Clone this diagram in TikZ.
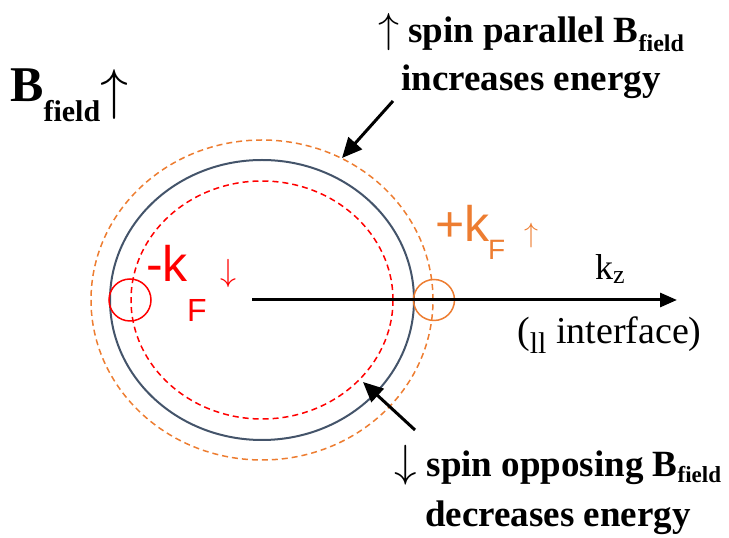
\documentclass[tikz,border=0pt]{standalone}
\usepackage{graphicx}
\usepackage{fontspec}
\setmainfont{Liberation Serif}
\setsansfont{Liberation Sans}
\usepackage{tikz}
\usetikzlibrary{arrows.meta}
\definecolor{spinred}{HTML}{FF0000}
\definecolor{spinorange}{HTML}{ED7D31}
\definecolor{fermigray}{HTML}{44546A}
\newcommand{\fsz}[1]{\fontsize{#1}{#1}\selectfont}
\newcommand{\spinarrow}[2]{\scalebox{#1}{\fsz{10}$#2$}}

\begin{document}
\begin{tikzpicture}[x=1pt, y=1pt,
    every node/.style={inner sep=0pt},
    textline/.style={font=\fsz{37}\bfseries, anchor=base},
    shell/.style={line width=1.5pt, dash pattern=on 6pt off 4pt},
    spot/.style={circle, draw, line width=1.5pt},
    kbig/.style={font=\sffamily\fsz{50}, anchor=base west},
    ksub/.style={font=\sffamily\fsz{32}, anchor=base west},
    karr/.style={anchor=base west},
    pointer/.style={-{Triangle[length=20pt, width=18pt]}, line width=3pt}]
  \useasboundingbox (0,0) rectangle (729,538);
  \coordinate (ctr) at (262,238);
  \draw[spinorange, shell] (ctr) ellipse [x radius=171, y radius=160];
  \draw[fermigray, line width=2pt] (ctr) ellipse [x radius=152, y radius=140];
  \draw[spinred, shell] (ctr) ellipse [x radius=131, y radius=119];
  \node[spot, draw=spinred, minimum size=42pt] (kmspot) at (130,238) {};
  \node[spot, draw=spinorange, minimum size=41pt] (kpspot) at (434,238) {};
  \coordinate (kzstart) at (252,238);
  \coordinate (kzend) at (677,238);
  \draw[-{Triangle[length=17pt, width=14pt]}, line width=3pt] (kzstart) -- (kzend);
  \node[font=\fsz{36}, anchor=base west] (kz) at (595,258) {k\raisebox{-4pt}{\fsz{26}z}};
  \node[font=\fsz{38}, anchor=base west] (iface) at (517,194)
    {(\raisebox{-10pt}{\fsz{30}ll} interface)};
  \node[font=\bfseries\fsz{50}, anchor=base west] (bfield) at (10,436)
    {B\raisebox{-20pt}{\fsz{30}field}\raisebox{-7pt}{\spinarrow{5.6}{\uparrow}}};
  \node[textline] (parline) at (531,495)
    {\spinarrow{4.2}{\uparrow} spin parallel B\raisebox{-9pt}{\fsz{24}field}};
  \node[textline] (incline) at (531,447) {increases energy};
  \node[textline] (oppline) at (558,61)
    {\spinarrow{4.5}{\downarrow} spin opposing B\raisebox{-6pt}{\fsz{23}field}};
  \node[textline] (decline) at (558,11) {decreases energy};
  \node[kbig, text=spinred] (kminus) at (146,256) {-k};
  \node[ksub, text=spinred] (kminusf) at (187,216) {F};
  \node[karr, text=spinred] (kminusarr) at (220,256) {\spinarrow{3.2}{\downarrow}};
  \node[kbig, text=spinorange] (kplus) at (435,296) {+k};
  \node[ksub, font=\sffamily\fsz{28}, text=spinorange] (kplusf) at (488,278) {F};
  \node[karr, text=spinorange] (kplusarr) at (524,295) {\spinarrow{2.8}{\uparrow}};
  \coordinate (partail) at (393,437);
  \coordinate (partip) at (342,380);
  \draw[pointer] (partail) -- (partip);
  \coordinate (opptail) at (415,108);
  \coordinate (opptip) at (363,156);
  \draw[pointer] (opptail) -- (opptip);
\end{tikzpicture}
\end{document}
